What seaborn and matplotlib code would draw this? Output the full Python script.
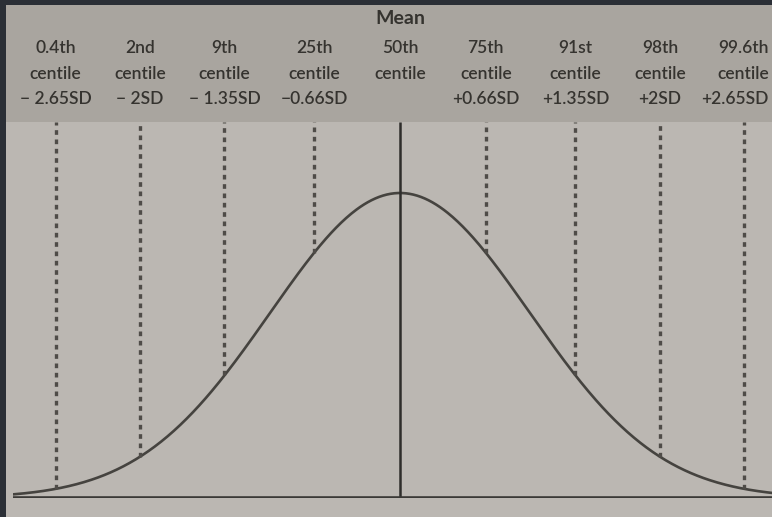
import numpy as np
import pandas as pd
import matplotlib
matplotlib.use("Agg")
import matplotlib.pyplot as plt
import matplotlib.transforms as mtransforms
from matplotlib.patches import Rectangle
import seaborn as sns

# Centile reference lines on a standard normal curve
centile_labels = ["0.4th", "2nd", "9th", "25th", "50th", "75th", "91st", "98th", "99.6th"]
sd_positions = [-2.65, -2.0, -1.35, -0.66, 0.0, 0.66, 1.35, 2.0, 2.65]
sd_labels = ["\u2212 2.65SD", "\u2212 2SD", "\u2212 1.35SD", "\u22120.66SD", "",
             "+0.66SD", "+1.35SD", "+2SD", "+2.65SD"]

X_MIN, X_MAX = -2.977, 2.862


def normal_density(z):
    return np.exp(-0.5 * np.asarray(z) ** 2) / np.sqrt(2 * np.pi)


z_grid = np.linspace(X_MIN, X_MAX, 600)
curve = pd.DataFrame({"z": z_grid, "density": normal_density(z_grid)})

sns.set_theme(style="white")
plt.rcParams["font.family"] = ["Lato", "DejaVu Sans"]

PAPER = "#bbb7b2"
BAND = "#a9a59f"
FRAME = "#2b2f36"
INK = "#35332f"

W, H = 772, 517
fig = plt.figure(figsize=(W / 100, H / 100), dpi=100, facecolor=PAPER)

# header band and dark photo edges, kept underneath the axes and its labels
fig.patches.append(Rectangle((0, 1 - 122 / H), 1, 117 / H, transform=fig.transFigure,
                             facecolor=BAND, edgecolor="none", zorder=-3))
fig.patches.append(Rectangle((0, 1 - 5 / H), 1, 5 / H, transform=fig.transFigure,
                             facecolor=FRAME, edgecolor="none", zorder=-2))
fig.patches.append(Rectangle((0, 0), 6 / W, 1, transform=fig.transFigure,
                             facecolor=FRAME, edgecolor="none", zorder=-2))

ax_left = 13 / W
ax_bottom = (H - 498) / H
ax_top = 1 - 122 / H
ax = fig.add_axes([ax_left, ax_bottom, 1 - ax_left, ax_top - ax_bottom])
ax.set_facecolor("none")
ax.set_zorder(1)

peak = normal_density(0.0)
y_top = peak / ((498 - 193) / (498 - 122))
ax.set_xlim(X_MIN, X_MAX)
ax.set_ylim(0, y_top)

sns.lineplot(data=curve, x="z", y="density", ax=ax, color="#45433f", linewidth=1.9)

# dashed centile lines run from the header down to the curve; the mean is solid
for pos in sd_positions:
    if pos == 0:
        ax.plot([pos, pos], [0, y_top], color="#2e2d2b", linewidth=1.8, solid_capstyle="butt")
    else:
        ax.plot([pos, pos], [normal_density(pos), y_top], color="#4f4c48",
                linewidth=2.4, linestyle=(0, (1.4, 1.4)))

ax.axhline(0, color="#3a3936", linewidth=2.6)

ax.set_xlabel("")
ax.set_ylabel("")
ax.set_xticks([])
ax.set_yticks([])
for spine in ax.spines.values():
    spine.set_visible(False)

# header labels; the last column is pulled in so it stays inside the figure
trans = mtransforms.blended_transform_factory(ax.transData, fig.transFigure)
edge_trans = fig.transFigure
ax.text(0.0, 1 - 18 / H, "Mean", transform=trans, ha="center", va="center",
        fontsize=14, fontweight="bold", color=INK, clip_on=False)
last = len(sd_positions) - 1
for i, (pos, cen, sdl) in enumerate(zip(sd_positions, centile_labels, sd_labels)):
    lines = [(48, cen), (74, "centile")]
    if sdl:
        lines.append((99, sdl))
    for ypix, txt in lines:
        if i == last:
            ax.text(1 - 3 / W, 1 - ypix / H, txt, transform=edge_trans, ha="right",
                    va="center", fontsize=12.5, fontweight="semibold", color=INK,
                    clip_on=False)
        else:
            ax.text(pos, 1 - ypix / H, txt, transform=trans, ha="center", va="center",
                    fontsize=12.5, fontweight="semibold", color=INK, clip_on=False)

fig.savefig("out.png", dpi=100, facecolor=fig.get_facecolor())
